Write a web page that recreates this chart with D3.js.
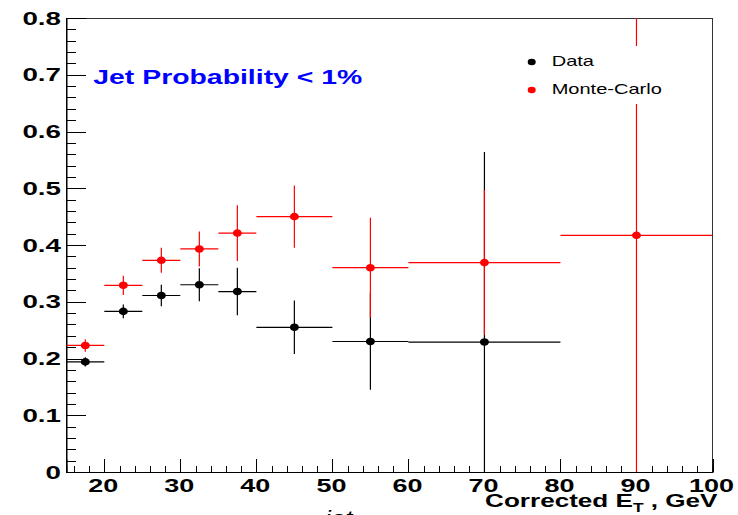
<!DOCTYPE html>
<html>
<head>
<meta charset="utf-8">
<script src="https://cdn.jsdelivr.net/npm/d3@7"></script>
<style>
  html, body { margin: 0; padding: 0; background: #fff; }
  svg { display: block; }
</style>
</head>
<body>
<svg id="chart" width="738" height="515"></svg>
<script>
// E_T bins (GeV)
const binLo = [15, 20, 25, 30, 35, 40, 50, 60, 80];
const binHi = [20, 25, 30, 35, 40, 50, 60, 80, 100];

// tagging fraction, data (no entry in the last bin)
const dataVals = [0.194, 0.283, 0.311, 0.330, 0.318, 0.255, 0.230, 0.229, null];
const dataErrs = [0.008, 0.012, 0.019, 0.029, 0.042, 0.047, 0.085, 0.335, null];

// tagging fraction, Monte-Carlo
const mcVals = [0.223, 0.329, 0.373, 0.393, 0.421, 0.450, 0.360, 0.369, 0.417];
const mcErrs = [0.011, 0.017, 0.022, 0.031, 0.049, 0.055, 0.088, 0.128, 0.450];

// axis ticks
const xMajor = [20, 30, 40, 50, 60, 70, 80, 90, 100];
const xMinor = d3.range(16, 100, 2).filter(v => v % 10 !== 0);
const yMajor = [0, 0.1, 0.2, 0.3, 0.4, 0.5, 0.6, 0.7, 0.8];
const yMinor = d3.range(1, 40).filter(i => i % 5 !== 0).map(i => i * 0.02);

const titleText = "Jet Probability < 1%";
const legendNames = ["Data", "Monte-Carlo"];

const svg = d3.select("#chart");
const frameL = 66.3, frameR = 712.5, frameT = 18, frameB = 472;

const x = d3.scaleLinear().domain([15, 100]).range([frameL, frameR]);
const y = d3.scaleLinear().domain([0, 0.8]).range([frameB, frameT]);

const FONT = "'Liberation Sans', Arial, Helvetica, sans-serif";

svg.append("defs").append("clipPath").attr("id", "frameClip")
  .append("rect").attr("x", frameL).attr("y", frameT)
  .attr("width", frameR - frameL).attr("height", frameB - frameT);

// frame
svg.append("rect")
  .attr("x", frameL).attr("y", frameT)
  .attr("width", frameR - frameL).attr("height", frameB - frameT)
  .attr("fill", "none").attr("stroke", "#333").attr("stroke-width", 1)
  .attr("shape-rendering", "crispEdges");

// x axis ticks (drawn inward)
const gx = svg.append("g").attr("transform", `translate(0,${frameB})`);
gx.call(d3.axisBottom(x).tickValues(xMajor).tickSize(-13).tickFormat(""));
gx.append("g").call(d3.axisBottom(x).tickValues(xMinor).tickSize(-6).tickFormat(""));
gx.selectAll("path.domain").attr("stroke", "#000");
gx.selectAll("line").attr("stroke", "#000").attr("shape-rendering", "crispEdges");

// y axis ticks (drawn inward)
const gy = svg.append("g").attr("transform", `translate(${frameL},0)`);
gy.call(d3.axisLeft(y).tickValues(yMajor).tickSize(-20).tickFormat(""));
gy.append("g").call(d3.axisLeft(y).tickValues(yMinor).tickSize(-10).tickFormat(""));
gy.selectAll("path.domain").attr("stroke", "#000");
gy.selectAll("line").attr("stroke", "#000").attr("shape-rendering", "crispEdges");

// horizontally stretched labels
function label(g, txt, px, py, size, sx, anchor, opts = {}) {
  return g.append("text")
    .attr("transform", `translate(${px},${py}) scale(${sx},1)`)
    .attr("text-anchor", anchor)
    .attr("font-family", FONT)
    .attr("font-size", size)
    .attr("font-weight", opts.weight || "bold")
    .attr("font-style", opts.style || "normal")
    .attr("fill", opts.fill || "#000")
    .text(txt);
}

const labels = svg.append("g");
yMajor.forEach(v => {
  label(labels, v === 0 ? "0" : v.toFixed(1), frameL - 5.3, y(v) + 6.6, 18.5, 1.5, "end");
});
xMajor.forEach(v => {
  label(labels, String(v), x(v) - 1, 491.5, 19, 1.42, "middle");
});

// x axis title with subscript
const xt = svg.append("text")
  .attr("transform", `translate(717.5,507) scale(1.45,1)`)
  .attr("text-anchor", "end")
  .attr("font-family", FONT).attr("font-size", 18).attr("font-weight", "bold")
  .attr("fill", "#000");
xt.append("tspan").text("Corrected E");
xt.append("tspan").attr("font-size", 12).attr("dy", 5).text("T");
xt.append("tspan").attr("dy", -5).text(" , GeV");

// partially clipped label below the axis title
label(svg, "jet", 325, 525, 20, 1.3, "start", { weight: "normal", style: "italic" });

// error-bar points
const plot = svg.append("g").attr("clip-path", "url(#frameClip)");

function drawSeries(vals, errs, color) {
  const pts = vals.map((v, i) => ({ v, e: errs[i], lo: binLo[i], hi: binHi[i], c: (binLo[i] + binHi[i]) / 2 }))
    .filter(d => d.v !== null);
  const g = plot.append("g");
  g.selectAll("line.h").data(pts).join("line").attr("class", "h")
    .attr("x1", d => x(d.lo)).attr("x2", d => x(d.hi))
    .attr("y1", d => y(d.v)).attr("y2", d => y(d.v))
    .attr("stroke", color).attr("stroke-width", 1.2);
  g.selectAll("line.v").data(pts).join("line").attr("class", "v")
    .attr("x1", d => x(d.c)).attr("x2", d => x(d.c))
    .attr("y1", d => y(d.v - d.e)).attr("y2", d => y(d.v + d.e))
    .attr("stroke", color).attr("stroke-width", 1.2);
  g.selectAll("ellipse").data(pts).join("ellipse")
    .attr("cx", d => x(d.c)).attr("cy", d => y(d.v))
    .attr("rx", 4.5).attr("ry", 3.8)
    .attr("fill", color);
}
drawSeries(dataVals, dataErrs, "#000");
drawSeries(mcVals, mcErrs, "#ff0000");

// title
label(svg, titleText, 93.3, 84, 20, 1.42, "start", { fill: "#0000ff" });

// legend (opaque box)
const lg = svg.append("g");
lg.append("rect").attr("x", 516).attr("y", 46).attr("width", 184).attr("height", 58)
  .attr("fill", "#fff");
const legColors = ["#000", "#ff0000"];
legendNames.forEach((name, i) => {
  const cy = 62 + i * 28;
  lg.append("ellipse").attr("cx", 531.7).attr("cy", cy).attr("rx", 4).attr("ry", 3.2)
    .attr("fill", legColors[i]);
  label(lg, name, 551.7, cy + 3.5, 14.5, 1.38, "start", { weight: "normal" });
});
</script>
</body>
</html>
